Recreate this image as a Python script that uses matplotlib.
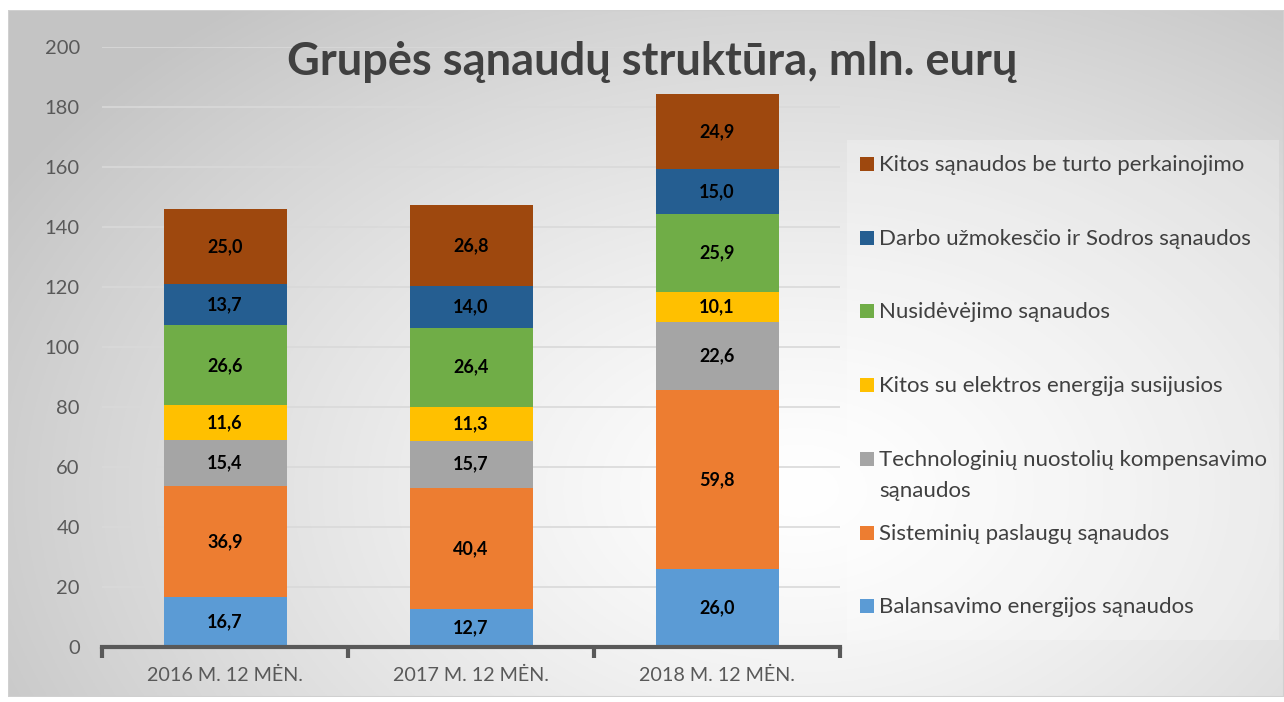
import matplotlib.pyplot as plt
import numpy as np
from matplotlib.patches import Rectangle

plt.rcParams['font.family'] = ['Lato', 'DejaVu Sans']

# data
years = ["2016 M. 12 MĖN.", "2017 M. 12 MĖN.", "2018 M. 12 MĖN."]
series = [
    "Balansavimo energijos sąnaudos",
    "Sisteminių paslaugų sąnaudos",
    "Technologinių nuostolių kompensavimo\nsąnaudos",
    "Kitos su elektros energija susijusios",
    "Nusidėvėjimo sąnaudos",
    "Darbo užmokesčio ir Sodros sąnaudos",
    "Kitos sąnaudos be turto perkainojimo",
]
balansavimo = [16.7, 12.7, 26.0]
sisteminiu = [36.9, 40.4, 59.8]
technologiniu = [15.4, 15.7, 22.6]
kitos_elektros = [11.6, 11.3, 10.1]
nusidevejimo = [26.6, 26.4, 25.9]
darbo = [13.7, 14.0, 15.0]
kitos = [25.0, 26.8, 24.9]
values = [balansavimo, sisteminiu, technologiniu, kitos_elektros, nusidevejimo, darbo, kitos]
colors = ["#5B9BD5", "#ED7D31", "#A5A5A5", "#FFC000", "#70AD47", "#255E91", "#9E480E"]

W, H = 1284, 702
fig = plt.figure(figsize=(W / 100, H / 100), dpi=100)
fig.patch.set_facecolor("white")

# chart area background: radial gradient
bg = fig.add_axes([8 / W, 5 / H, 1 - 8 / W, 1 - 15 / H])
yy, xx = np.mgrid[0:1:300j, 0:1:600j]
d = np.sqrt(((xx - 0.62) / 0.72) ** 2 + ((yy - 0.3) / 0.9) ** 2)
d = np.clip(d, 0, 1)
shade = 1.0 - 0.23 * d ** 1.3
img = np.dstack([shade, shade, shade])
bg.imshow(img, origin="lower", extent=[0, 1, 0, 1], aspect="auto")
bg.set_xlim(0, 1)
bg.set_ylim(0, 1)
bg.axis("off")
bg.add_patch(Rectangle((0, 0), 1, 1, fill=False, ec="#d0d0d0", lw=1.5))

# legend box
fig.patches.append(Rectangle((847 / W, 1 - 640 / H), 432 / W, 500 / H,
                             transform=fig.transFigure, fc="white", alpha=0.25, ec="none"))

ax = fig.add_axes([102 / W, 1 - 647 / H, 738 / W, 600 / H])
ax.patch.set_alpha(0)
x = np.arange(len(years))
bottom = np.zeros(len(years))
for name, vals, c in zip(series, values, colors):
    bars = ax.bar(x, vals, 0.5, bottom=bottom, color=c, zorder=3)
    ax.bar_label(bars, labels=[f"{v:.1f}".replace(".", ",") for v in vals],
                 label_type="center", fontsize=13, fontweight="bold", color="black")
    bottom += np.array(vals)

ax.set_xlim(-0.5, 2.5)
ax.set_ylim(0, 200)
ax.set_yticks(range(0, 201, 20))
ax.grid(axis="y", color="#d9d9d9", lw=1.2, zorder=0)
for s in ["top", "right", "left"]:
    ax.spines[s].set_visible(False)
ax.spines["bottom"].set_color("#595959")
ax.spines["bottom"].set_linewidth(3)
ax.spines["bottom"].set_zorder(4)
ax.tick_params(axis="y", length=0, pad=16, labelsize=14.5, labelcolor="#595959")
ax.set_xticks(x)
ax.set_xticklabels(years)
ax.set_xticks([-0.5, 0.5, 1.5, 2.5], minor=True)
ax.tick_params(axis="x", which="major", length=0, pad=14, labelsize=14.2, labelcolor="#595959")
ax.tick_params(axis="x", which="minor", length=8, width=3, color="#595959")

fig.text(652 / W, 1 - 62 / H, "Grupės sąnaudų struktūra, mln. eurų", ha="center", va="center",
         fontsize=32.5, fontweight="bold", color="#404040")

# legend (top entry is the last series)
y0 = 164
step = 73.7
for i, (name, c) in enumerate(zip(series[::-1], colors[::-1])):
    yc = y0 + i * step
    fig.patches.append(Rectangle((860 / W, 1 - (yc + 7) / H), 14 / W, 14 / H,
                                 transform=fig.transFigure, fc=c, ec="none"))
    for j, line in enumerate(name.split("\n")):
        fig.text(879 / W, 1 - (yc + 7 + j * 31) / H, line, ha="left", va="baseline",
                 fontsize=16, color="#404040")

fig.savefig("out.png", dpi=100)
